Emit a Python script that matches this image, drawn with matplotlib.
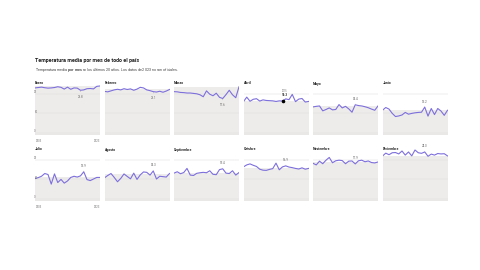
import matplotlib
matplotlib.use("Agg")
import matplotlib.pyplot as plt

plt.rcParams["font.family"] = ["Roboto", "DejaVu Sans"]
plt.rcParams["mathtext.fontset"] = "custom"
plt.rcParams["mathtext.rm"] = "Roboto"
plt.rcParams["mathtext.bf"] = "Roboto:bold"

years = list(range(2003, 2024))
meses = ["Enero", "Febrero", "Marzo", "Abril", "Mayo", "Junio",
         "Julio", "Agosto", "Septiembre", "Octubre", "Noviembre", "Diciembre"]

# mean temperature (°C), 2003..2023
enero = [23.0, 23.2, 23.4, 23.1, 22.9, 23.0, 23.2, 23.6, 23.3, 22.4, 23.4,
         22.3, 23.0, 22.9, 21.8, 22.0, 22.6, 22.7, 22.5, 23.8, 24.0]
febrero = [21.2, 21.0, 21.5, 22.0, 22.3, 22.0, 22.6, 22.2, 22.5, 21.8, 22.4,
           23.3, 23.0, 22.0, 21.6, 21.1, 20.9, 21.3, 20.8, 21.4, 22.2]
marzo = [21.1, 21.0, 20.7, 20.6, 20.4, 20.4, 20.2, 20.0, 19.5, 18.5, 21.5,
         19.8, 19.0, 20.3, 18.2, 17.6, 19.6, 21.8, 19.5, 18.0, 23.6]
abril = [16.0, 18.3, 16.2, 17.2, 17.5, 16.3, 16.9, 16.6, 16.5, 16.4, 16.1,
         16.4, 16.3, 17.4, 17.0, 19.7, 16.0, 17.3, 17.6, 15.8, 16.1]
mayo = [13.3, 13.6, 13.8, 11.3, 12.0, 12.8, 11.8, 12.0, 14.5, 12.8, 13.6,
        12.3, 10.6, 14.4, 14.0, 13.8, 13.4, 12.9, 12.2, 11.6, 13.8]
junio = [11.6, 13.0, 12.2, 10.0, 8.4, 8.7, 9.2, 10.5, 9.6, 10.0, 10.3,
         10.5, 10.6, 13.2, 8.6, 12.5, 9.4, 12.5, 11.2, 9.0, 11.6]
julio = [10.4, 10.9, 11.6, 13.0, 12.5, 7.6, 12.8, 8.4, 10.0, 8.1, 9.2,
         11.0, 11.6, 11.2, 11.8, 13.9, 9.9, 9.4, 10.2, 11.0, 11.0]
agosto = [10.8, 12.0, 13.0, 11.0, 8.8, 10.5, 12.8, 11.5, 10.3, 13.2, 10.0,
          12.3, 13.8, 13.6, 12.2, 14.3, 10.2, 11.6, 11.4, 11.2, 13.0]
septiembre = [13.2, 13.9, 12.9, 13.5, 15.6, 12.2, 12.0, 13.1, 13.4, 13.6, 13.4,
              14.4, 12.6, 12.4, 15.0, 15.4, 13.2, 13.0, 14.4, 12.2, 13.5]
octubre = [16.4, 17.4, 17.9, 17.2, 16.6, 15.2, 14.7, 14.6, 15.1, 15.5, 18.3,
           14.9, 16.4, 16.9, 16.3, 16.0, 15.6, 15.3, 15.9, 15.2, 15.6]
noviembre = [18.2, 17.4, 19.3, 18.0, 19.8, 21.2, 18.5, 19.5, 19.8, 19.6, 18.0,
             19.3, 19.4, 17.9, 19.5, 19.8, 19.0, 19.4, 18.6, 18.4, 18.9]
diciembre = [21.9, 23.4, 22.6, 23.6, 23.7, 23.0, 24.5, 22.4, 24.0, 22.0, 25.0,
             23.6, 23.3, 24.0, 21.8, 22.9, 22.4, 23.2, 23.0, 23.1, 22.0]

series = [enero, febrero, marzo, abril, mayo, junio,
          julio, agosto, septiembre, octubre, noviembre, diciembre]

# which year gets a value label in each panel (Abril carries the hover tip)
label_idx = [14, 15, 15, 12, 13, 13, 15, 15, 15, 13, 13, 13]
label_below = [True, True, True, False, False, False,
               False, False, False, False, False, False]

PURPLE = "#7d6fdc"
BAND = "#edecea"
GRID = "#dedede"
YMIN, YMAX = -1.2, 26

W, H = 480, 270
fig = plt.figure(figsize=(4.8, 2.7), dpi=100)
fig.patch.set_facecolor("white")

fig.text(35 / W, 1 - 61 / H, "Temperatura media por mes de todo el país",
         fontsize=3.9, fontweight="bold", color="#222", va="center")
fig.text(35 / W, 1 - 69 / H,
         "Temperatura media $\\bf{por\\ mes}$ en los últimos 20 años. "
         "Los datos de 2023 no son oficiales.",
         fontsize=2.6, color="#444", va="center")

col_left = [35, 104.5, 174, 243.5, 313, 382.5]
zero_px = [133, 199]
px_per_unit = 1.96
pw = 65

for i, (mes, s) in enumerate(zip(meses, series)):
    row, col = divmod(i, 6)
    top_px = zero_px[row] - YMAX * px_per_unit
    bot_px = zero_px[row] - YMIN * px_per_unit
    ax = fig.add_axes([col_left[col] / W, 1 - bot_px / H,
                       pw / W, (bot_px - top_px) / H])
    ax.set_xlim(years[0], years[-1])
    ax.set_ylim(YMIN, YMAX)
    ax.axis("off")

    # band up to the 2023 value
    ax.fill_between([years[0], years[-1]], YMIN, s[-1], color=BAND, lw=0, zorder=0)
    for g in (0, 10, 20):
        ax.axhline(g, color=GRID, lw=0.35, zorder=1)
    ax.axhline(YMIN + 0.3, color="#d9d9d9", lw=1.0, zorder=1)
    ax.plot(years, s, color=PURPLE, lw=0.8, solid_joinstyle="round", zorder=3)

    fig.text(col_left[col] / W, 1 - (zero_px[row] - 49.5) / H, mes,
             fontsize=2.5, fontweight="bold", color="#222", va="center")

    k = label_idx[i]
    if mes == "Abril":
        ax.scatter([years[k]], [s[k]], s=2.5, color="black", zorder=5)
        ax.annotate(f"{years[k]}", (years[k], s[k]), xytext=(1.5, 7.5),
                    textcoords="offset points", fontsize=1.8, color="#777",
                    ha="center", va="center", zorder=6,
                    bbox=dict(boxstyle="square,pad=0.2", fc="white", ec="none"))
        ax.annotate(f"{s[k]:.1f}", (years[k], s[k]), xytext=(1.5, 4.5),
                    textcoords="offset points", fontsize=2.2, fontweight="bold",
                    color="#222", ha="center", va="center", zorder=6,
                    bbox=dict(boxstyle="square,pad=0.2", fc="white", ec="none"))
    else:
        dy = -4.5 if label_below[i] else 4.0
        ax.annotate(f"{s[k]:.1f}", (years[k], s[k]), xytext=(0, dy),
                    textcoords="offset points", fontsize=2.2, color="#666",
                    ha="center", va="center", zorder=4,
                    arrowprops=dict(arrowstyle="-", color="#999", lw=0.3,
                                    shrinkA=1.5, shrinkB=0.5))

    if col == 0:
        for g in (0, 10, 20):
            ax.text(-0.01, g + 0.9, str(g), transform=ax.get_yaxis_transform(),
                    fontsize=2.1, color="#777", ha="left", va="center", zorder=4)
        ax.text(0.02, -0.11, str(years[0]), transform=ax.transAxes,
                fontsize=2.1, color="#777", ha="left", va="center")
        ax.text(1.0, -0.11, str(years[-1]), transform=ax.transAxes,
                fontsize=2.1, color="#777", ha="right", va="center")

fig.savefig("out.png", dpi=100)
